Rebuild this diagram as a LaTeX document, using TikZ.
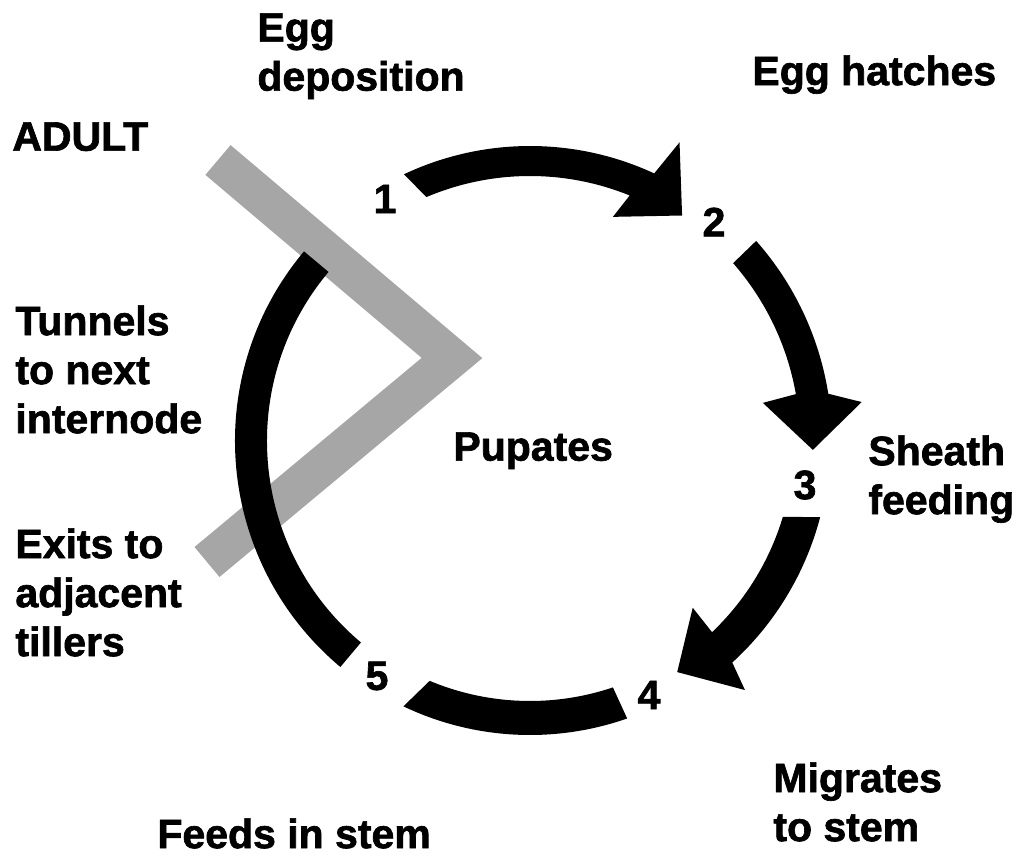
\documentclass[tikz,border=0pt]{standalone}
\usepackage{fontspec}
\setsansfont{Liberation Sans}[BoldFeatures={FakeBold=1.6}]
\usepackage{tikz}

\begin{document}
\begin{tikzpicture}[x=0.5pt,y=0.5pt,
  lbl/.style={font=\sffamily\bfseries\fontsize{20.5}{24.5}\selectfont, anchor=north west, inner sep=0pt, align=left},
  num/.style={font=\sffamily\bfseries\fontsize{20.5}{24.5}\selectfont, inner sep=0pt},
  band/.style={draw=black!35, line width=19.5pt, line join=miter},
  stage/.style={fill=black}]
  \useasboundingbox (-530,-417) rectangle (488,441);
  % grey band of the adult, behind the cycle
  \draw[band] (-312,281) -- (-78,83) -- (-323,-121);
  % 1 -> 2
  \fill[stage] (115.3:295) arc[start angle=115.3, end angle=65.1, radius=295] -- (63.4:334) -- (56:272) -- (69.7:239) -- (67.9:265) arc[start angle=67.9, end angle=113, radius=265] -- cycle;
  % 2 -> 3
  \fill[stage] (41.5:302) arc[start angle=41.5, end angle=9, radius=302] -- (6.7:334) -- (-1.8:283) -- (9.3:236) -- (10:270) arc[start angle=10, end angle=41.2, radius=270] -- cycle;
  % 3 -> 4
  \fill[stage] (-14.7:300) arc[start angle=-14.7, end angle=-47.6, radius=300] -- (-49.2:329) -- (-57.5:274) -- (-45.7:233) -- (-46.4:264) arc[start angle=-46.4, end angle=-16.7, radius=264] -- cycle;
  % 4 - 5 and 5 - 1, no heads
  \fill[stage] (-70.7:294) arc[start angle=-70.7, end angle=-115.5, radius=294] -- (-112.7:260) arc[start angle=-112.7, end angle=-71.4, radius=260] -- cycle;
  \fill[stage] (230:295) arc[start angle=230, end angle=140, radius=295] -- (140:263) arc[start angle=140, end angle=230, radius=263] -- cycle;
  % stage numbers
  \node[num] (n1) at (-145,242) {1};
  \node[num] (n2) at (184,219) {2};
  \node[num] (n3) at (275,-44) {3};
  \node[num] (n4) at (119,-254) {4};
  \node[num] (n5) at (-153,-235) {5};
  % labels
  \node[lbl] (deposit) at (-273,428) {Egg\\deposition};
  \node[lbl] (adult) at (-518,319) {ADULT};
  \node[lbl] (hatch) at (222,386) {Egg hatches};
  \node[lbl] (tunnel) at (-515,136) {Tunnels\\to next\\internode};
  \node[lbl] (exits) at (-515,-87) {Exits to\\adjacent\\tillers};
  \node[lbl] (pupa) at (-77,9) {Pupates};
  \node[lbl] (sheath) at (338,6) {Sheath\\feeding};
  \node[lbl] (feeds) at (-373,-377) {Feeds in stem};
  \node[lbl] (migr) at (243,-321) {Migrates\\to stem};
\end{tikzpicture}
\end{document}
